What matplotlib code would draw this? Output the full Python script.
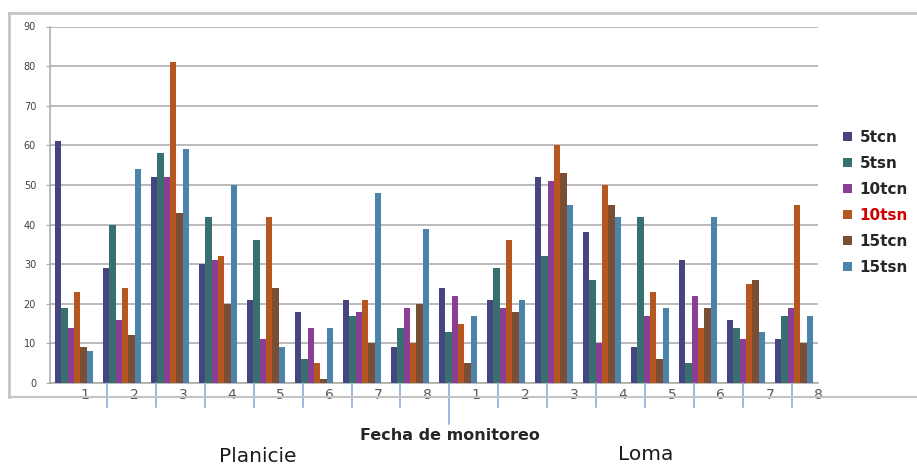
import matplotlib.pyplot as plt
import matplotlib.transforms as mtransforms
from matplotlib.patches import Patch
import numpy as np

# monitoring dates, 8 per site
fechas = ['1', '2', '3', '4', '5', '6', '7', '8']
sitios = ['Planicie', 'Loma']
series = ['5tcn', '5tsn', '10tcn', '10tsn', '15tcn', '15tsn']
colores = ['#46467e', '#377070', '#8a3e94', '#b5571f', '#7a4e33', '#4c83ab']

# values per series: Planicie 1-8 then Loma 1-8
t5cn = [61, 29, 52, 30, 21, 18, 21, 9, 24, 21, 52, 38, 9, 31, 16, 11]
t5sn = [19, 40, 58, 42, 36, 6, 17, 14, 13, 29, 32, 26, 42, 5, 14, 17]
t10cn = [14, 16, 52, 31, 11, 14, 18, 19, 22, 19, 51, 10, 17, 22, 11, 19]
t10sn = [23, 24, 81, 32, 42, 5, 21, 10, 15, 36, 60, 50, 23, 14, 25, 45]
t15cn = [9, 12, 43, 20, 24, 1, 10, 20, 5, 18, 53, 45, 6, 19, 26, 10]
t15sn = [8, 54, 59, 50, 9, 14, 48, 39, 17, 21, 45, 42, 19, 42, 13, 17]
valores = [t5cn, t5sn, t10cn, t10sn, t15cn, t15sn]


def main():
    fig = plt.figure(figsize=(9.17, 4.66), dpi=100)
    W, H = 917, 466
    ax = fig.add_axes([50 / W, 1 - 383 / H, 768 / W, 356.5 / H])

    n = len(fechas) * len(sitios)
    grupos = np.arange(n)
    ancho = 0.8 / len(series)
    for j, (nombre, col, vals) in enumerate(zip(series, colores, valores)):
        ax.bar(grupos + 0.1 + (j + 0.5) * ancho, vals, width=ancho,
               color=col, label=nombre, zorder=3, linewidth=0)

    ax.set_xlim(0, n)
    ax.set_ylim(0, 90)
    ax.set_yticks(range(0, 91, 10))
    ax.yaxis.grid(True, color='#a8a8a8', linewidth=1.1, zorder=0)
    ax.tick_params(axis='y', length=3, color='#a8a8a8', labelsize=7,
                   labelcolor='#404040', pad=7)
    ax.set_xticks([])
    for s in ['top', 'right']:
        ax.spines[s].set_visible(False)
    ax.spines['left'].set_color('#a8a8a8')
    ax.spines['bottom'].set_color('#a8a8a8')
    ax.spines['left'].set_linewidth(1.1)
    ax.spines['bottom'].set_linewidth(1.1)

    # date labels and blue separators under the axis
    trans = mtransforms.blended_transform_factory(ax.transData, ax.transAxes)
    etiquetas = fechas * len(sitios)
    pos_lab = 0.73 + 1.019 * np.arange(n)
    for p, t in zip(pos_lab, etiquetas):
        ax.text(p, -0.034, t, transform=trans, ha='center', va='center',
                fontsize=10, color='#595959')
    pos_sep = 1.1875 + 1.019 * np.arange(n - 1)
    for k, p in enumerate(pos_sep):
        fondo = -0.115 if k == len(fechas) - 1 else -0.067
        ax.plot([p, p], [0, fondo], transform=trans, color='#7fa7d6',
                linewidth=1.1, clip_on=False, zorder=4)

    # outer chart frame
    gris = '#c4c4c4'
    fig.add_artist(plt.Line2D([9 / W, 1], [1 - 13 / H, 1 - 13 / H], color=gris, lw=2))
    fig.add_artist(plt.Line2D([9 / W, 9 / W], [1 - 13 / H, 1 - 397 / H], color=gris, lw=2))
    fig.add_artist(plt.Line2D([9 / W, 1], [1 - 397 / H, 1 - 397 / H], color=gris, lw=1.5))

    fig.text(450 / W, 1 - 436 / H, 'Fecha de monitoreo', ha='center', va='center',
             fontsize=11.5, fontweight='bold', color='#262626')
    fig.text(258 / W, 1 - 456 / H, sitios[0], ha='center', va='center',
             fontsize=14.5, color='#1a1a1a')
    fig.text(646 / W, 1 - 455 / H, sitios[1], ha='center', va='center',
             fontsize=14.5, color='#1a1a1a')

    handles = [Patch(facecolor=c, label=s) for c, s in zip(colores, series)]
    leg = fig.legend(handles=handles, loc='upper left',
                     bbox_to_anchor=(843 / W, 1 - 130 / H), frameon=False,
                     prop={'size': 11, 'weight': 'bold'}, handlelength=0.6,
                     handleheight=0.6, handletextpad=0.5, labelspacing=0.72,
                     borderpad=0, borderaxespad=0)
    for txt in leg.get_texts():
        txt.set_color('#d00000' if txt.get_text() == '10tsn' else '#262626')

    fig.savefig('out.png', dpi=100)


if __name__ == '__main__':
    main()
